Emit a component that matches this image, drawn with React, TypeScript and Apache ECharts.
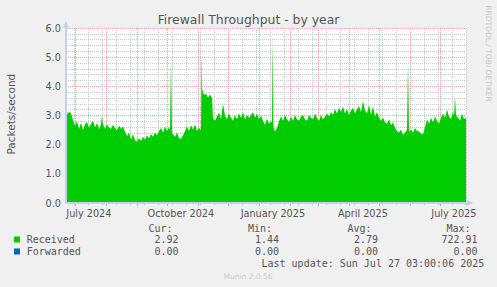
import { useEffect, useRef } from "react";
import * as echarts from "echarts";

// ---------- data ----------
const chartTitle = "Firewall Throughput - by year";
const yAxisName = "Packets/second";
const lastUpdate = "Last update: Sun Jul 27 03:00:06 2025";
const muninVersion = "Munin 2.0.56";
const sideText = "RRDTOOL / TOBI OETIKER";

// graph spans 400 days ending at last update
const spanDays = 400;
const startUTC = Date.UTC(2025, 6, 27, 3, 0, 6) - spanDays * 86400000;

const monthStartDates = [
  "2024-07-01", "2024-08-01", "2024-09-01", "2024-10-01", "2024-11-01", "2024-12-01",
  "2025-01-01", "2025-02-01", "2025-03-01", "2025-04-01", "2025-05-01", "2025-06-01", "2025-07-01",
];
const minorGridDates = [
  "2024-06-30", "2024-07-14", "2024-07-28", "2024-08-11", "2024-08-25", "2024-09-08", "2024-09-22",
  "2024-10-06", "2024-10-20", "2024-11-03", "2024-11-17", "2024-12-15", "2024-12-29",
  "2025-01-12", "2025-01-26", "2025-02-09", "2025-02-23", "2025-03-09", "2025-03-23", "2025-04-06",
  "2025-04-20", "2025-05-04", "2025-05-18", "2025-06-15", "2025-06-29", "2025-07-13", "2025-07-27",
];
const axisLabelDates = ["2024-07-15", "2024-10-15", "2025-01-15", "2025-04-15", "2025-07-15"];
const axisLabelNames = ["July 2024", "October 2024", "January 2025", "April 2025", "July 2025"];

// [day since graph start, packets/second]
const receivedPoints: [number, number][] = [
  [0, 3.05], [1, 3.05], [3, 3.12], [5, 3.08], [7, 2.85], [9, 2.65], [11, 2.8], [13, 2.55], [15, 2.75],
  [17, 2.5], [19, 2.7], [21, 2.78], [23, 2.58], [25, 2.72], [27, 2.82], [29, 2.6], [31, 2.74],
  [33, 2.55], [35, 2.7], [36, 3.0], [37, 2.7], [39, 2.55], [41, 2.7], [43, 2.58], [45, 2.55],
  [47, 2.68], [49, 2.56], [51, 2.5], [53, 2.65], [55, 2.55], [57, 2.62], [59, 2.45], [61, 2.3],
  [63, 2.42], [65, 2.18], [67, 2.36], [69, 2.15], [71, 2.1], [73, 2.22], [75, 2.13], [77, 2.27],
  [79, 2.18], [81, 2.32], [83, 2.22], [85, 2.37], [87, 2.27], [89, 2.42], [91, 2.32], [93, 2.47],
  [95, 2.57], [97, 2.42], [99, 2.62], [101, 2.47], [103, 2.6], [104, 2.5], [105, 4.95], [106, 2.4],
  [107, 2.35], [109, 2.27], [111, 2.42], [113, 2.22], [115, 2.2], [117, 2.32], [119, 2.47], [121, 2.62],
  [123, 2.47], [125, 2.67], [127, 2.52], [129, 2.7], [131, 2.47], [133, 2.57], [135, 2.5],
  [135.6, 5.15], [136.2, 3.9], [138, 3.7], [140, 3.75], [142, 3.62], [144, 3.72], [146, 3.6],
  [147, 2.9], [149, 2.82], [151, 2.97], [153, 3.1], [155, 2.88], [157, 3.4], [159, 3.0], [161, 2.88],
  [163, 3.07], [165, 2.92], [167, 2.82], [169, 3.02], [171, 2.87], [173, 3.07], [175, 2.92],
  [177, 3.12], [179, 2.87], [181, 3.02], [183, 2.92], [185, 3.02], [187, 3.12], [189, 2.92], [191, 3.07],
  [193, 2.87], [195, 3.0], [197, 2.82], [199, 2.68], [201, 2.9], [203, 2.72], [205, 2.8], [206, 2.75],
  [206.7, 5.65], [207.5, 2.6], [209, 2.45], [211, 2.57], [213, 2.8], [215, 2.97], [217, 2.82],
  [219, 3.02], [221, 2.87], [223, 2.78], [225, 2.97], [227, 2.82], [229, 3.02], [231, 2.87], [233, 2.82],
  [235, 2.97], [237, 3.02], [239, 2.87], [241, 2.82], [243, 3.02], [245, 2.92], [247, 2.87], [249, 3.07],
  [251, 2.92], [253, 2.82], [255, 3.02], [257, 2.87], [259, 2.97], [261, 3.07], [263, 2.97], [265, 3.12],
  [267, 3.02], [269, 3.22], [271, 3.07], [273, 3.27], [275, 3.12], [277, 3.32], [279, 3.07], [281, 3.22],
  [283, 3.02], [285, 3.17], [287, 3.27], [289, 3.07], [291, 3.22], [293, 3.32], [295, 3.12], [297, 3.5],
  [299, 3.17], [301, 3.07], [303, 3.37], [305, 3.02], [307, 3.32], [309, 2.97], [311, 3.12], [313, 2.92],
  [315, 2.82], [317, 2.92], [319, 2.77], [321, 2.72], [323, 2.87], [325, 2.67], [327, 2.77], [329, 2.57],
  [331, 2.47], [333, 2.42], [335, 2.52], [337, 2.33], [339, 2.42], [341, 2.5], [342, 4.85], [343, 2.45],
  [345, 2.52], [347, 2.42], [349, 2.57], [351, 2.47], [353, 2.45], [355, 2.38], [357, 2.35], [359, 2.6],
  [361, 2.87], [363, 2.72], [365, 2.92], [367, 2.77], [369, 2.97], [371, 2.82], [373, 2.72], [375, 2.92],
  [377, 3.07], [379, 2.92], [381, 3.2], [383, 2.97], [385, 2.88], [387, 3.12], [388, 3.0], [389, 3.65],
  [390, 3.0], [392, 2.92], [394, 2.82], [396, 3.07], [398, 2.88], [400, 2.92],
];
const forwardedPoints: [number, number][] = [[0, 0], [400, 0]];

const legendHeaders = ["Cur:", "Min:", "Avg:", "Max:"];
const receivedStats = ["2.92", "1.44", "2.79", "722.91"];
const forwardedStats = ["0.00", "0.00", "0.00", "0.00"];
const seriesNames = ["Received", "Forwarded"];
const seriesColors = ["#00cc00", "#0066b3"];

// ---------- helpers ----------
const dayOf = (s: string) => {
  const [y, m, d] = s.split("-").map(Number);
  return (Date.UTC(y, m - 1, d) - startUTC) / 86400000;
};
const monthDays = monthStartDates.map(dayOf);
const minorDays = minorGridDates.map(dayOf);
const labelDays = axisLabelDates.map(dayOf);

const TXT = "#555555";
const SANS = "DejaVu Sans";
const MONO = "DejaVu Sans Mono";
const AXIS_BLUE = "#c6cdf4";
const MAJOR = "#e8a4a4";
const MINOR = "#c8c8c8";

const headerX = [148.5, 248, 347.5, 446.5];
const valueRightX = [178.5, 279, 378, 477.5];
const rowY = [239.5, 251.5];

function buildOption() {
  const graphic: any[] = [
    {
      type: "text", x: 248.5, y: 19.2,
      style: { text: chartTitle, fill: TXT, font: `12.4px '${SANS}'`, align: "center", verticalAlign: "middle" },
    },
    {
      type: "text", x: 488.5, y: 53.5, rotation: -Math.PI / 2,
      style: { text: sideText, fill: "#c8c8c8", font: `7.5px '${SANS}'`, align: "center", verticalAlign: "middle" },
    },
    {
      type: "text", x: 11, y: 114.2, rotation: Math.PI / 2,
      style: { text: yAxisName, fill: TXT, font: `10.5px '${SANS}'`, align: "center", verticalAlign: "middle" },
    },
    {
      type: "text", x: 261.5, y: 263.5,
      style: { text: lastUpdate, fill: TXT, font: `10px '${MONO}'`, align: "left", verticalAlign: "middle" },
    },
    {
      type: "text", x: 248, y: 276,
      style: { text: muninVersion, fill: "#cccccc", font: `7.5px '${SANS}'`, align: "center", verticalAlign: "middle" },
    },
  ];
  legendHeaders.forEach((h, i) => {
    graphic.push({
      type: "text", x: headerX[i], y: 228.3,
      style: { text: h, fill: TXT, font: `10px '${MONO}'`, align: "left", verticalAlign: "middle" },
    });
  });
  [receivedStats, forwardedStats].forEach((stats, r) => {
    graphic.push({
      type: "rect", shape: { x: 14, y: rowY[r] - 3, width: 6, height: 6 },
      style: { fill: seriesColors[r] },
    });
    graphic.push({
      type: "text", x: 26.7, y: rowY[r],
      style: { text: seriesNames[r], fill: TXT, font: `10px '${MONO}'`, align: "left", verticalAlign: "middle" },
    });
    stats.forEach((v, i) => {
      graphic.push({
        type: "text", x: valueRightX[i], y: rowY[r],
        style: { text: v, fill: TXT, font: `10px '${MONO}'`, align: "right", verticalAlign: "middle" },
      });
    });
  });

  const arrowLine = {
    show: true,
    lineStyle: { color: AXIS_BLUE, width: 2 },
    symbol: ["none", "triangle"],
    symbolSize: [6, 7],
    symbolOffset: [0, 4],
  };

  return {
    animation: false,
    backgroundColor: "#f0f0f0",
    textStyle: { fontFamily: SANS },
    grid: {
      left: 66, top: 28, width: 400, height: 175,
      show: true, backgroundColor: "#ffffff", borderWidth: 0,
      containLabel: false, outerBoundsMode: "none",
    },
    xAxis: [
      {
        type: "value", min: 0, max: spanDays, z: 1,
        axisLine: { show: false },
        axisTick: { show: true, customValues: monthDays, length: 3, lineStyle: { color: MAJOR } },
        axisLabel: {
          show: true, customValues: labelDays, margin: 5, color: TXT, fontSize: 9.7, fontFamily: SANS,
          formatter: (v: number) => {
            const i = labelDays.findIndex((d) => Math.abs(d - v) < 0.01);
            return i >= 0 ? axisLabelNames[i] : "";
          },
        },
        splitLine: { show: true, lineStyle: { color: MAJOR, width: 1, type: [1, 1] } },
      },
      {
        type: "value", min: 0, max: spanDays, position: "bottom", z: 0,
        axisLine: { show: false },
        axisTick: { show: true, customValues: minorDays, length: 2, lineStyle: { color: MINOR } },
        axisLabel: { show: false },
        splitLine: { show: true, lineStyle: { color: MINOR, width: 1, type: [1, 1] } },
      },
      {
        type: "value", min: 0, max: spanDays, position: "bottom", z: 5,
        axisLine: arrowLine,
        axisTick: { show: false }, axisLabel: { show: false }, splitLine: { show: false },
      },
    ],
    yAxis: [
      {
        type: "value", min: 0, max: 6, interval: 1, z: 1,
        axisLine: { show: false },
        axisTick: { show: false },
        axisLabel: {
          margin: 5, color: TXT, fontSize: 9.7, fontFamily: SANS,
          formatter: (v: number) => v.toFixed(1),
        },
        splitLine: { show: true, lineStyle: { color: MAJOR, width: 1, type: [1, 1] } },
        minorTick: { show: false, splitNumber: 5 },
        minorSplitLine: { show: true, lineStyle: { color: MINOR, width: 1, type: [1, 1] } },
      },
      {
        type: "value", min: 0, max: 6, interval: 1, position: "left", z: 5,
        axisLine: arrowLine,
        axisTick: { show: false }, axisLabel: { show: false }, splitLine: { show: false },
      },
    ],
    series: [
      {
        name: seriesNames[0], type: "line", xAxisIndex: 0, yAxisIndex: 0,
        data: receivedPoints, showSymbol: false, symbol: "none",
        color: seriesColors[0],
        lineStyle: { width: 0 },
        areaStyle: { color: seriesColors[0], opacity: 1 },
        z: 2,
      },
      {
        name: seriesNames[1], type: "line", xAxisIndex: 0, yAxisIndex: 0,
        data: forwardedPoints, showSymbol: false, symbol: "none",
        color: seriesColors[1],
        lineStyle: { width: 0 },
        areaStyle: { color: seriesColors[1], opacity: 1 },
        z: 2,
      },
    ],
    graphic,
  };
}

export default function App() {
  const ref = useRef<HTMLDivElement>(null);
  useEffect(() => {
    if (!ref.current) return;
    const chart = echarts.init(ref.current, null, { renderer: "svg" });
    chart.setOption(buildOption() as any);
    return () => chart.dispose();
  }, []);
  return (
    <div
      ref={ref}
      style={{ position: "fixed", left: 0, top: 0, width: 497, height: 287 }}
    />
  );
}
